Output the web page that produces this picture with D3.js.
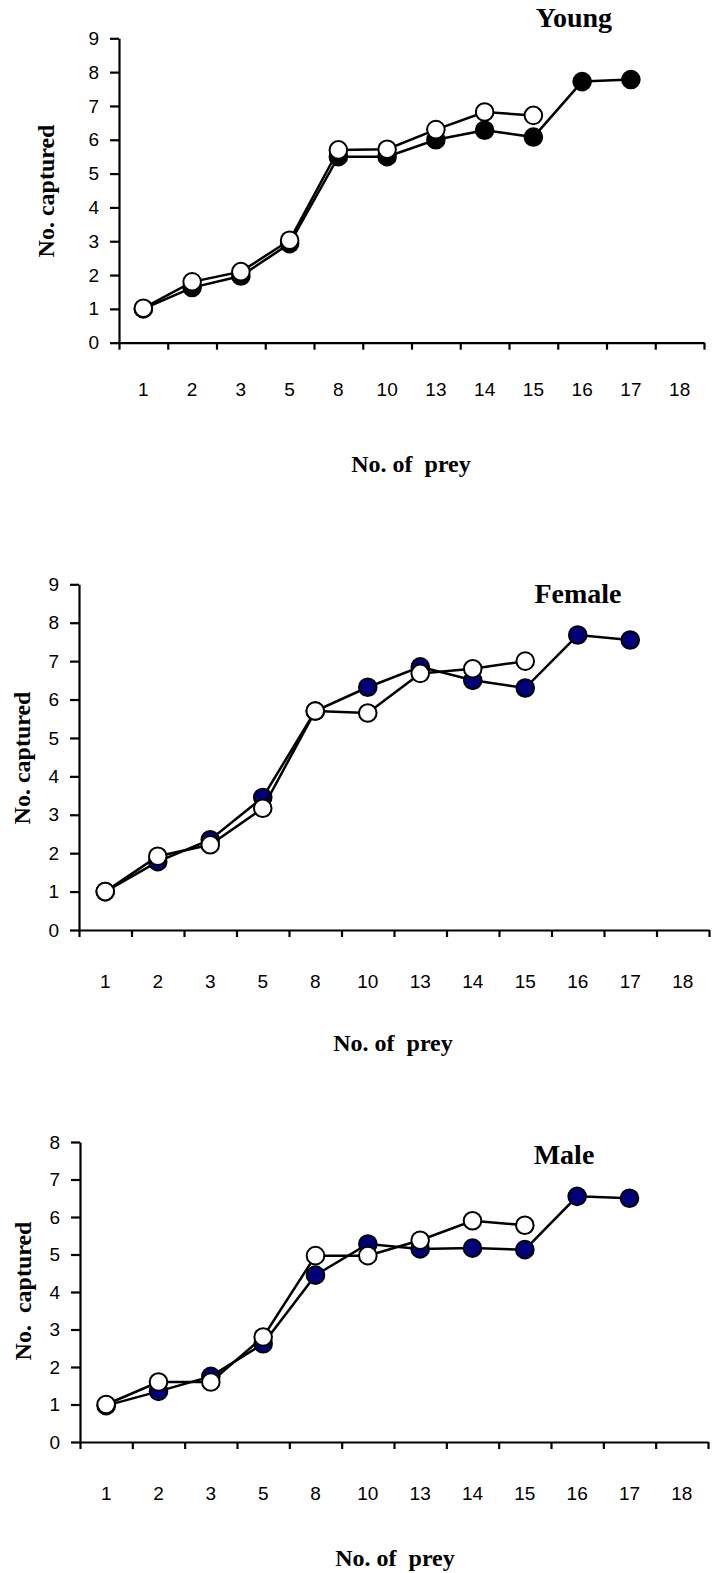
<!DOCTYPE html>
<html>
<head>
<meta charset="utf-8">
<script src="https://cdn.jsdelivr.net/npm/d3@7"></script>
<style>
  html, body { margin: 0; padding: 0; background: #fff; }
  svg { display: block; }
</style>
</head>
<body>
<svg id="chart" width="717" height="1573"></svg>
<script>
// Prey density categories shown on every x axis
const preyCategories = ["1", "2", "3", "5", "8", "10", "13", "14", "15", "16", "17", "18"];

// Mean number of prey captured (filled markers run to 17, open markers to 15)
const youngFilled  = [1.0, 1.63, 1.97, 2.93, 5.5, 5.5, 6.0, 6.28, 6.08, 7.72, 7.78];
const youngOpen    = [1.02, 1.8, 2.1, 3.03, 5.7, 5.72, 6.3, 6.82, 6.72];
const femaleFilled = [1.0, 1.78, 2.35, 3.45, 5.7, 6.32, 6.85, 6.5, 6.3, 7.68, 7.55];
const femaleOpen   = [1.0, 1.92, 2.22, 3.17, 5.7, 5.65, 6.68, 6.8, 7.0];
const maleFilled   = [0.97, 1.35, 1.75, 2.62, 4.45, 5.28, 5.15, 5.17, 5.13, 6.55, 6.5];
const maleOpen     = [1.0, 1.6, 1.6, 2.8, 4.97, 4.97, 5.38, 5.9, 5.78];

// Panel titles and axis titles
const panelTitles = ["Young", "Female", "Male"];
const yTitles = ["No. captured", "No. captured", "No.\u00a0\u00a0captured"];
const xTitle = "No. of\u00a0\u00a0prey";

// Panel geometry (pixels)
const panels = [
  { title: panelTitles[0], yTitle: yTitles[0], filled: youngFilled, open: youngOpen, fillColor: "#000000",
    left: 119, right: 704, top: 38.3, bottom: 342.7, yMax: 9,
    tickLabelY: 396, titleX: 574, titleY: 27, yTitleX: 46, yTitleY: 191, xTitleX: 411, xTitleY: 472 },
  { title: panelTitles[1], yTitle: yTitles[1], filled: femaleFilled, open: femaleOpen, fillColor: "#00007a",
    left: 79, right: 709, top: 584.3, bottom: 930, yMax: 9,
    tickLabelY: 988, titleX: 578, titleY: 603, yTitleX: 22, yTitleY: 758, xTitleX: 393, xTitleY: 1051 },
  { title: panelTitles[2], yTitle: yTitles[2], filled: maleFilled, open: maleOpen, fillColor: "#00007a",
    left: 80, right: 708, top: 1142, bottom: 1442, yMax: 8,
    tickLabelY: 1500, titleX: 564, titleY: 1164, yTitleX: 23, yTitleY: 1291, xTitleX: 395, xTitleY: 1566 }
];

const svg = d3.select("#chart");
const sansFont = "'Liberation Sans Narrow', 'Arial Narrow', 'Liberation Sans', Arial, sans-serif";
const serifFont = "'Liberation Serif', 'Times New Roman', serif";

panels.forEach(p => {
  const g = svg.append("g");

  const x = d3.scaleBand().domain(preyCategories).range([p.left, p.right]).padding(0);
  const xEdges = d3.scaleLinear().domain([0, preyCategories.length]).range([p.left, p.right]);
  const y = d3.scaleLinear().domain([0, p.yMax]).range([p.bottom, p.top]);

  // x axis line with tick marks at category boundaries
  const xAxis = g.append("g")
    .attr("transform", `translate(0,${p.bottom})`)
    .call(d3.axisBottom(xEdges).tickValues(d3.range(preyCategories.length + 1))
      .tickSize(7).tickSizeOuter(0).tickFormat(""));
  xAxis.select(".domain").attr("stroke", "#000").attr("stroke-width", 2.2);
  xAxis.selectAll(".tick line").attr("stroke", "#000").attr("stroke-width", 2.2);

  // category labels centred in each band
  const xLabels = g.append("g")
    .attr("transform", `translate(0,${p.tickLabelY})`)
    .call(d3.axisBottom(x).tickSize(0).tickPadding(0));
  xLabels.select(".domain").remove();
  xLabels.selectAll("text")
    .attr("dy", 0).attr("y", 0)
    .attr("fill", "#000")
    .style("font-family", sansFont).style("font-size", "19px");

  // y axis
  const yAxis = g.append("g")
    .attr("transform", `translate(${p.left},0)`)
    .call(d3.axisLeft(y).ticks(p.yMax).tickSize(9).tickPadding(11).tickSizeOuter(0).tickFormat(d3.format("d")));
  yAxis.select(".domain").attr("stroke", "#000").attr("stroke-width", 2.2);
  yAxis.selectAll(".tick line").attr("stroke", "#000").attr("stroke-width", 2.2);
  yAxis.selectAll("text").attr("fill", "#000")
    .style("font-family", sansFont).style("font-size", "19px");

  // series: filled first, open markers on top
  const line = d3.line()
    .x((d, i) => x(preyCategories[i]) + x.bandwidth() / 2)
    .y(d => y(d));

  [{ values: p.filled, fill: p.fillColor }, { values: p.open, fill: "#ffffff" }].forEach(s => {
    g.append("path")
      .datum(s.values)
      .attr("d", line)
      .attr("fill", "none")
      .attr("stroke", "#000")
      .attr("stroke-width", 2.5);
    g.selectAll(null)
      .data(s.values)
      .enter().append("circle")
      .attr("cx", (d, i) => x(preyCategories[i]) + x.bandwidth() / 2)
      .attr("cy", d => y(d))
      .attr("r", 8.8)
      .attr("fill", s.fill)
      .attr("stroke", "#000")
      .attr("stroke-width", 2);
  });

  // panel title
  g.append("text")
    .attr("x", p.titleX).attr("y", p.titleY)
    .attr("text-anchor", "middle")
    .style("font-family", serifFont).style("font-weight", "bold").style("font-size", "28px")
    .text(p.title);

  // y axis title
  g.append("text")
    .attr("transform", `translate(${p.yTitleX},${p.yTitleY}) rotate(-90)`)
    .attr("text-anchor", "middle")
    .attr("dominant-baseline", "central")
    .style("font-family", serifFont).style("font-weight", "bold").style("font-size", "24px")
    .text(p.yTitle);

  // x axis title
  g.append("text")
    .attr("x", p.xTitleX).attr("y", p.xTitleY)
    .attr("text-anchor", "middle")
    .style("font-family", serifFont).style("font-weight", "bold").style("font-size", "24px")
    .text(xTitle);
});
</script>
</body>
</html>
